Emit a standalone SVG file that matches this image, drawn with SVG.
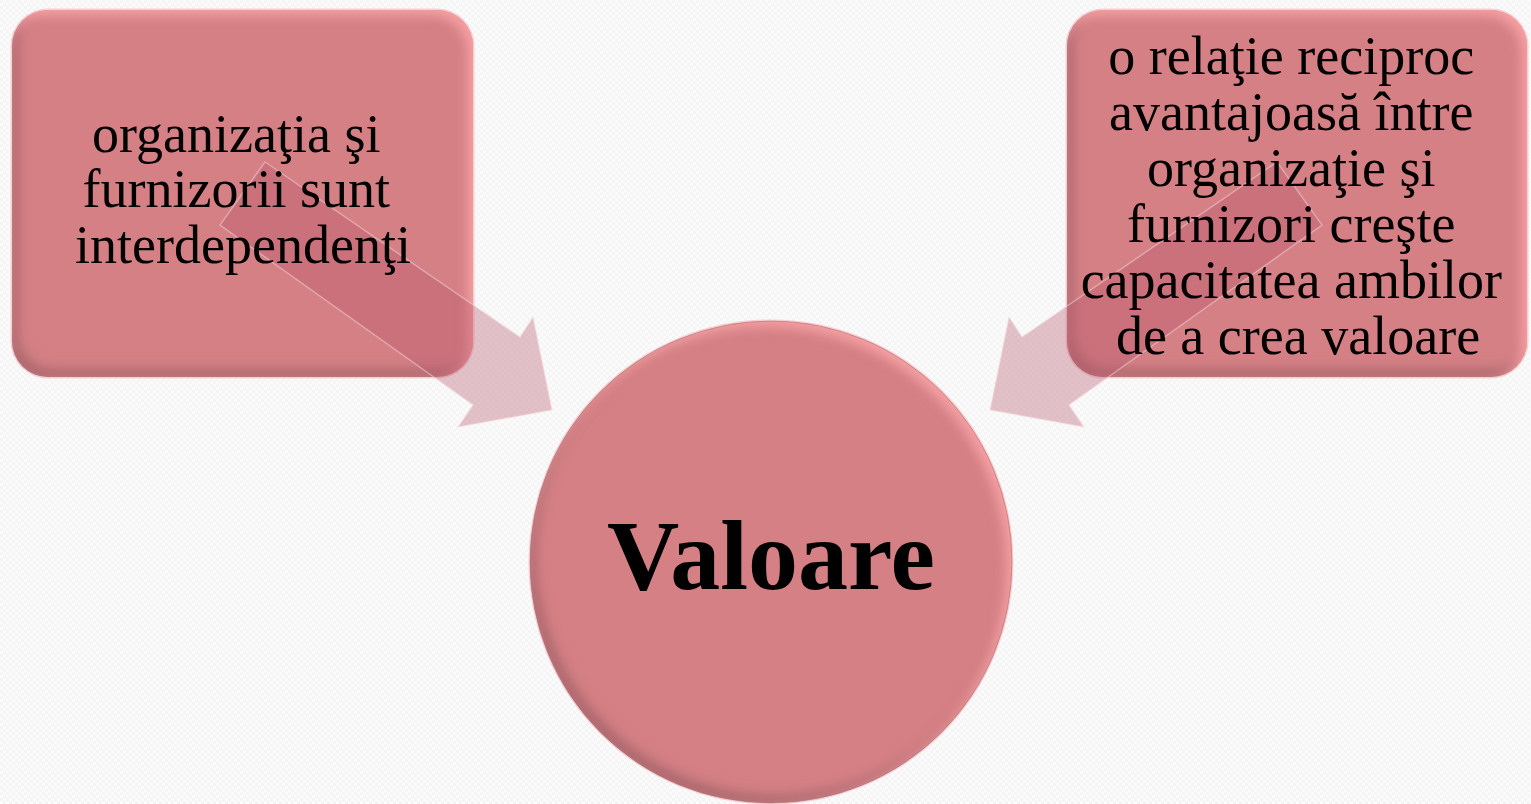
<svg xmlns="http://www.w3.org/2000/svg" width="1531" height="804" viewBox="0 0 1531 804">
  <defs>
    <style>
      .label { font-family: "Liberation Serif", "Times New Roman", serif; font-size: 54px; fill: #000; text-anchor: middle; }
      .title { font-family: "Liberation Serif", "Times New Roman", serif; font-size: 100px; font-weight: bold; fill: #000; text-anchor: middle; }
      .shape { fill: #d48085; filter: url(#bevel); }
      .rim { fill: none; stroke: #f6cfd2; stroke-width: 3; }
      .arrow { fill: #b8566d; fill-opacity: 0.35; stroke: #f7dde1; stroke-opacity: 0.45; stroke-width: 1.5; stroke-linejoin: miter; }
    </style>
    <!-- faint paper texture -->
    <pattern id="paper" width="6" height="6" patternUnits="userSpaceOnUse">
      <rect width="6" height="6" fill="#fbfbfb"/>
      <rect width="3" height="3" fill="#f5f5f5"/>
      <rect x="3" y="3" width="3" height="3" fill="#f5f5f5"/>
    </pattern>
    <!-- soft inner bevel: dark lower-left edge, light upper-right edge -->
    <filter id="bevel" x="-5%" y="-5%" width="110%" height="110%">
      <feGaussianBlur in="SourceAlpha" stdDeviation="6" result="blur"/>
      <feOffset in="blur" dx="6" dy="-8" result="offA"/>
      <feComposite in="SourceAlpha" in2="offA" operator="out" result="edgeA"/>
      <feFlood flood-color="#7d4f55" flood-opacity="0.55"/>
      <feComposite in2="edgeA" operator="in" result="shade"/>
      <feOffset in="blur" dx="-5" dy="5" result="offB"/>
      <feComposite in="SourceAlpha" in2="offB" operator="out" result="edgeB"/>
      <feFlood flood-color="#ffa8aa" flood-opacity="0.8"/>
      <feComposite in2="edgeB" operator="in" result="light"/>
      <feMerge>
        <feMergeNode in="SourceGraphic"/>
        <feMergeNode in="shade"/>
        <feMergeNode in="light"/>
      </feMerge>
    </filter>
  </defs>

  <rect width="1531" height="804" fill="url(#paper)"/>

  <!-- left statement box -->
  <g id="node-interdependenti">
    <rect class="rim" x="12" y="10" width="461" height="367" rx="36"/>
    <rect class="shape" x="12" y="10" width="461" height="367" rx="36"/>
  </g>

  <!-- right statement box -->
  <g id="node-relatie">
    <rect class="rim" x="1067" y="10" width="460" height="367" rx="36"/>
    <rect class="shape" x="1067" y="10" width="460" height="367" rx="36"/>
  </g>

  <!-- central value circle -->
  <g id="node-valoare">
    <circle class="rim" cx="771" cy="562" r="241"/>
    <circle class="shape" cx="771" cy="562" r="241"/>
    <circle cx="771" cy="562" r="241" fill="none" stroke="#a86f74" stroke-opacity="0.5" stroke-width="1"/>
  </g>

  <!-- block arrows into the circle -->
  <g id="connectors">
    <polygon class="arrow" points="265,162 520,337 533,317 552,410 458,427 473,405 220,225"/>
    <polygon class="arrow" points="1277,162 1022,337 1009,317 990,410 1084,427 1069,405 1322,225"/>
  </g>

  <!-- labels -->
  <g id="labels">
    <text id="label-interdependenti" class="label">
      <tspan x="243" y="152">organizaţia şi</tspan>
      <tspan x="243" y="207">furnizorii sunt</tspan>
      <tspan x="243" y="263">interdependenţi</tspan>
    </text>
    <text id="label-relatie" class="label">
      <tspan x="1298" y="74">o relaţie reciproc</tspan>
      <tspan x="1298" y="130">avantajoasă între</tspan>
      <tspan x="1298" y="186">organizaţie şi</tspan>
      <tspan x="1298" y="242">furnizori creşte</tspan>
      <tspan x="1298" y="298">capacitatea ambilor</tspan>
      <tspan x="1298" y="354">de a crea valoare</tspan>
    </text>
    <text id="label-valoare" class="title" x="771" y="589">Valoare</text>
  </g>
</svg>
